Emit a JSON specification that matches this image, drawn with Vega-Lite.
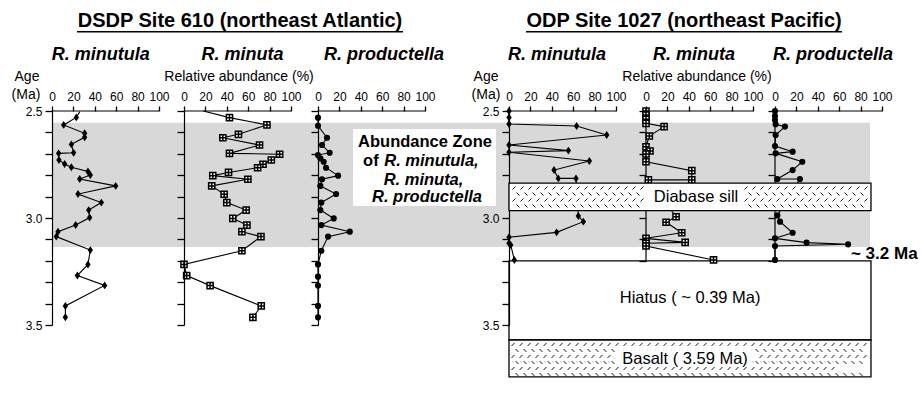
{
"$schema":"https://vega.github.io/schema/vega-lite/v6.json",
"background":"white",
"padding":{"left":11,"top":11,"right":0,"bottom":0},
"autosize":{"type":"pad"},
"spacing":0,
"bounds":"flush",
"config":{"view":{"stroke":null},"font":"Liberation Sans"},
"datasets":{
"dsdp_minutula":[{"pct":26,"age":2.503},{"pct":22.7,"age":2.53},{"pct":10.9,"age":2.565},{"pct":30.5,"age":2.604},{"pct":30.5,"age":2.623},{"pct":18.1,"age":2.656},{"pct":20.2,"age":2.695},{"pct":6.2,"age":2.698},{"pct":6.5,"age":2.729},{"pct":11.8,"age":2.748},{"pct":18.1,"age":2.763},{"pct":33.6,"age":2.783},{"pct":35.8,"age":2.799},{"pct":25.9,"age":2.818},{"pct":59.5,"age":2.85},{"pct":24.3,"age":2.888},{"pct":46.1,"age":2.928},{"pct":34.3,"age":2.963},{"pct":35.2,"age":2.998},{"pct":22.1,"age":3.033},{"pct":5.6,"age":3.064},{"pct":4.0,"age":3.087},{"pct":35.8,"age":3.15},{"pct":33.6,"age":3.217},{"pct":23.7,"age":3.269},{"pct":49.2,"age":3.315},{"pct":12.5,"age":3.411},{"pct":12.5,"age":3.464}],
"dsdp_minuta":[{"pct":18,"age":2.5},{"pct":42.5,"age":2.531},{"pct":77.5,"age":2.565},{"pct":50.9,"age":2.609},{"pct":36.3,"age":2.625},{"pct":70.6,"age":2.659},{"pct":42.5,"age":2.698},{"pct":89.4,"age":2.702},{"pct":81.6,"age":2.729},{"pct":73.8,"age":2.749},{"pct":68.8,"age":2.765},{"pct":41.6,"age":2.787},{"pct":26.9,"age":2.802},{"pct":59.7,"age":2.819},{"pct":25.9,"age":2.85},{"pct":37.5,"age":2.889},{"pct":40.0,"age":2.928},{"pct":58.1,"age":2.963},{"pct":45.6,"age":3.002},{"pct":58.8,"age":3.033},{"pct":54.1,"age":3.064},{"pct":71.9,"age":3.087},{"pct":54.1,"age":3.153},{"pct":0,"age":3.217},{"pct":2.5,"age":3.269},{"pct":24.4,"age":3.316},{"pct":72.2,"age":3.411},{"pct":64.4,"age":3.464}],
"dsdp_productella":[{"pct":0,"age":2.531},{"pct":0,"age":2.569},{"pct":8.4,"age":2.625},{"pct":3.75,"age":2.659},{"pct":10.9,"age":2.695},{"pct":0,"age":2.706},{"pct":2.2,"age":2.721},{"pct":5.3,"age":2.737},{"pct":7.5,"age":2.765},{"pct":18.75,"age":2.802},{"pct":3.75,"age":2.819},{"pct":2.2,"age":2.85},{"pct":16.9,"age":2.888},{"pct":3.1,"age":2.928},{"pct":2.2,"age":2.963},{"pct":14.7,"age":3.002},{"pct":3.1,"age":3.033},{"pct":29.7,"age":3.064},{"pct":9.4,"age":3.087},{"pct":3.1,"age":3.153},{"pct":0,"age":3.217},{"pct":0,"age":3.274},{"pct":0,"age":3.316},{"pct":0,"age":3.411},{"pct":0,"age":3.464}],
"odp_minutula":[{"pct":0,"age":2.5},{"pct":0,"age":2.53},{"pct":0,"age":2.561},{"pct":63.2,"age":2.57},{"pct":91.3,"age":2.612},{"pct":0,"age":2.659},{"pct":55.5,"age":2.685},{"pct":0,"age":2.693},{"pct":75.1,"age":2.734},{"pct":42.1,"age":2.776},{"pct":46.1,"age":2.815},{"pct":62.6,"age":2.815},{"pct":64.8,"age":2.991},{"pct":69.5,"age":3.017},{"pct":44.5,"age":3.067},{"pct":0,"age":3.09},{"pct":0,"age":3.118},{"pct":1.6,"age":3.126},{"pct":5.0,"age":3.196}],
"odp_minuta":[{"pct":0,"age":2.5},{"pct":0,"age":2.519},{"pct":0,"age":2.539},{"pct":0,"age":2.558},{"pct":16.9,"age":2.573},{"pct":3.1,"age":2.617},{"pct":0,"age":2.667},{"pct":3.75,"age":2.687},{"pct":0,"age":2.701},{"pct":0,"age":2.737},{"pct":42.8,"age":2.779},{"pct":42.8,"age":2.822},{"pct":2.2,"age":2.822},{"pct":28.1,"age":2.994},{"pct":18.75,"age":3.02},{"pct":33.4,"age":3.069},{"pct":0,"age":3.095},{"pct":36.6,"age":3.114},{"pct":0,"age":3.118},{"pct":0,"age":3.131},{"pct":63.1,"age":3.196}],
"odp_productella":[{"pct":0,"age":2.5},{"pct":0,"age":2.523},{"pct":0,"age":2.542},{"pct":0.6,"age":2.562},{"pct":9.3,"age":2.573},{"pct":0.6,"age":2.612},{"pct":0,"age":2.664},{"pct":16.5,"age":2.69},{"pct":0.6,"age":2.698},{"pct":25.5,"age":2.737},{"pct":16.5,"age":2.776},{"pct":2.2,"age":2.818},{"pct":23.3,"age":2.818},{"pct":2.2,"age":2.988},{"pct":4.7,"age":3.017},{"pct":16.5,"age":3.069},{"pct":0,"age":3.095},{"pct":29.5,"age":3.115},{"pct":68.3,"age":3.123},{"pct":0,"age":3.131},{"pct":0,"age":3.196}]
},
"hconcat":[
{"width":132,"height":214,"resolve":{"axis":{"x":"independent","y":"independent"}},"layer":[
{"data":{"values":[{}]},"mark":{"type":"rect","color":"#d8d8d8"},"encoding":{"x":{"datum":0,"type":"quantitative","scale":{"domain":[0,123.36],"nice":false,"zero":false},"axis":null},"x2":{"datum":123.36},"y":{"datum":2.555,"type":"quantitative","scale":{"domain":[2.5,3.5],"reverse":true,"nice":false,"zero":false},"axis":null},"y2":{"datum":3.135}}},
{"data":{"values":[{}]},"mark":{"type":"rule","color":"black","strokeWidth":1.2},"encoding":{"x":{"datum":0,"type":"quantitative","scale":{"domain":[0,123.36],"nice":false,"zero":false},"axis":null},"x2":{"datum":100},"y":{"datum":2.5,"type":"quantitative","scale":{"domain":[2.5,3.5],"reverse":true,"nice":false,"zero":false},"axis":null}}},
{"data":{"name":"dsdp_minutula"},"mark":{"type":"line","color":"black","strokeWidth":1.1},"encoding":{"x":{"field":"pct","type":"quantitative","scale":{"domain":[0,123.36],"nice":false,"zero":false},"axis":{"orient":"top","values":[0,20,40,60,80,100],"domain":false,"grid":false,"ticks":true,"tickSize":5,"tickWidth":1.3,"tickColor":"black","labelPadding":3,"labelFontSize":12,"labelFont":"Liberation Sans","labelColor":"black","labelFlush":false,"labelOverlap":false,"title":null,"zindex":1}},"y":{"field":"age","type":"quantitative","scale":{"domain":[2.5,3.5],"reverse":true,"nice":false,"zero":false},"axis":{"orient":"left","values":[2.5,2.6,2.7,2.8,2.9,3.0,3.1,3.2,3.3,3.4,3.5],"labelExpr":"(datum.value == 2.5 || datum.value == 3 || datum.value == 3.5) ? format(datum.value, '.1f') : ''","grid":false,"ticks":true,"tickSize":7,"tickWidth":1.3,"tickColor":"black","domainColor":"black","domainWidth":1.2,"labelPadding":3,"labelFontSize":12,"labelFont":"Liberation Sans","labelColor":"black","labelFlush":false,"labelOverlap":false,"title":null,"zindex":1}},"order":{"value":null}}},
{"data":{"name":"dsdp_minutula"},"transform":[{"filter":"datum.age > 2.505"}],"mark":{"type":"point","shape":"M0,-1.25L0.85,0L0,1.25L-0.85,0Z","filled":true,"color":"black","size":40,"opacity":1},"encoding":{"x":{"field":"pct","type":"quantitative","scale":{"domain":[0,123.36],"nice":false,"zero":false},"axis":null},"y":{"field":"age","type":"quantitative","scale":{"domain":[2.5,3.5],"reverse":true,"nice":false,"zero":false},"axis":null}}},
{"data":{"values":[{}]},"mark":{"type":"text","text":"DSDP Site 610 (northeast Atlantic)","fontSize":20,"fontWeight":"bold","align":"center","baseline":"alphabetic","color":"black"},"encoding":{"x":{"datum":175.7,"type":"quantitative","scale":{"domain":[0,123.36],"nice":false,"zero":false},"axis":null},"y":{"datum":2.1089,"type":"quantitative","scale":{"domain":[2.5,3.5],"reverse":true,"nice":false,"zero":false},"axis":null}}},
{"data":{"values":[{}]},"mark":{"type":"rule","color":"black","strokeWidth":1.5},"encoding":{"x":{"datum":23.4,"type":"quantitative","scale":{"domain":[0,123.36],"nice":false,"zero":false},"axis":null},"x2":{"datum":328},"y":{"datum":2.1294,"type":"quantitative","scale":{"domain":[2.5,3.5],"reverse":true,"nice":false,"zero":false},"axis":null}}},
{"data":{"values":[{}]},"mark":{"type":"text","text":"R. minutula","fontSize":18,"fontWeight":"bold","fontStyle":"italic","align":"center","baseline":"alphabetic","color":"black"},"encoding":{"x":{"datum":45.5,"type":"quantitative","scale":{"domain":[0,123.36],"nice":false,"zero":false},"axis":null},"y":{"datum":2.2626,"type":"quantitative","scale":{"domain":[2.5,3.5],"reverse":true,"nice":false,"zero":false},"axis":null}}},
{"data":{"values":[{}]},"mark":{"type":"text","text":"R. minuta","fontSize":18,"fontWeight":"bold","fontStyle":"italic","align":"center","baseline":"alphabetic","color":"black"},"encoding":{"x":{"datum":178.0,"type":"quantitative","scale":{"domain":[0,123.36],"nice":false,"zero":false},"axis":null},"y":{"datum":2.2626,"type":"quantitative","scale":{"domain":[2.5,3.5],"reverse":true,"nice":false,"zero":false},"axis":null}}},
{"data":{"values":[{}]},"mark":{"type":"text","text":"R. productella","fontSize":18,"fontWeight":"bold","fontStyle":"italic","align":"center","baseline":"alphabetic","color":"black"},"encoding":{"x":{"datum":310.3,"type":"quantitative","scale":{"domain":[0,123.36],"nice":false,"zero":false},"axis":null},"y":{"datum":2.2626,"type":"quantitative","scale":{"domain":[2.5,3.5],"reverse":true,"nice":false,"zero":false},"axis":null}}},
{"data":{"values":[{}]},"mark":{"type":"text","text":"Age","fontSize":14,"align":"center","baseline":"alphabetic","color":"black"},"encoding":{"x":{"datum":-23.4,"type":"quantitative","scale":{"domain":[0,123.36],"nice":false,"zero":false},"axis":null},"y":{"datum":2.3621,"type":"quantitative","scale":{"domain":[2.5,3.5],"reverse":true,"nice":false,"zero":false},"axis":null}}},
{"data":{"values":[{}]},"mark":{"type":"text","text":"(Ma)","fontSize":14,"align":"center","baseline":"alphabetic","color":"black"},"encoding":{"x":{"datum":-24.3,"type":"quantitative","scale":{"domain":[0,123.36],"nice":false,"zero":false},"axis":null},"y":{"datum":2.4439,"type":"quantitative","scale":{"domain":[2.5,3.5],"reverse":true,"nice":false,"zero":false},"axis":null}}},
{"data":{"values":[{}]},"mark":{"type":"text","text":"Relative abundance (%)","fontSize":14,"align":"center","baseline":"alphabetic","color":"black"},"encoding":{"x":{"datum":174.8,"type":"quantitative","scale":{"domain":[0,123.36],"nice":false,"zero":false},"axis":null},"y":{"datum":2.3621,"type":"quantitative","scale":{"domain":[2.5,3.5],"reverse":true,"nice":false,"zero":false},"axis":null}}}
]},
{"width":134,"height":214,"resolve":{"axis":{"x":"independent","y":"independent"}},"layer":[
{"data":{"values":[{}]},"mark":{"type":"rect","color":"#d8d8d8"},"encoding":{"x":{"datum":0,"type":"quantitative","scale":{"domain":[0,125.23],"nice":false,"zero":false},"axis":null},"x2":{"datum":125.23},"y":{"datum":2.555,"type":"quantitative","scale":{"domain":[2.5,3.5],"reverse":true,"nice":false,"zero":false},"axis":null},"y2":{"datum":3.135}}},
{"data":{"values":[{}]},"mark":{"type":"rule","color":"black","strokeWidth":1.2},"encoding":{"x":{"datum":0,"type":"quantitative","scale":{"domain":[0,125.23],"nice":false,"zero":false},"axis":null},"x2":{"datum":100},"y":{"datum":2.5,"type":"quantitative","scale":{"domain":[2.5,3.5],"reverse":true,"nice":false,"zero":false},"axis":null}}},
{"data":{"name":"dsdp_minuta"},"mark":{"type":"line","color":"black","strokeWidth":1.1},"encoding":{"x":{"field":"pct","type":"quantitative","scale":{"domain":[0,125.23],"nice":false,"zero":false},"axis":{"orient":"top","values":[0,20,40,60,80,100],"domain":false,"grid":false,"ticks":true,"tickSize":5,"tickWidth":1.3,"tickColor":"black","labelPadding":3,"labelFontSize":12,"labelFont":"Liberation Sans","labelColor":"black","labelFlush":false,"labelOverlap":false,"title":null,"zindex":1}},"y":{"field":"age","type":"quantitative","scale":{"domain":[2.5,3.5],"reverse":true,"nice":false,"zero":false},"axis":{"orient":"left","values":[2.5,2.6,2.7,2.8,2.9,3.0,3.1,3.2,3.3,3.4,3.5],"labels":false,"grid":false,"ticks":true,"tickSize":7,"tickWidth":1.3,"tickColor":"black","domainColor":"black","domainWidth":1.2,"title":null,"zindex":1}},"order":{"value":null}}},
{"data":{"name":"dsdp_minuta"},"transform":[{"filter":"datum.age > 2.505"}],"mark":{"type":"point","shape":"M-1,-1H1V1H-1ZM0,-1V1M-1,0H1","filled":true,"fill":"white","stroke":"black","strokeWidth":1.5,"size":38,"opacity":1},"encoding":{"x":{"field":"pct","type":"quantitative","scale":{"domain":[0,125.23],"nice":false,"zero":false},"axis":null},"y":{"field":"age","type":"quantitative","scale":{"domain":[2.5,3.5],"reverse":true,"nice":false,"zero":false},"axis":null}}}
]},
{"width":191,"height":214,"resolve":{"axis":{"x":"independent","y":"independent"}},"layer":[
{"data":{"values":[{}]},"mark":{"type":"rect","color":"#d8d8d8"},"encoding":{"x":{"datum":0,"type":"quantitative","scale":{"domain":[0,178.5],"nice":false,"zero":false},"axis":null},"x2":{"datum":178.5},"y":{"datum":2.555,"type":"quantitative","scale":{"domain":[2.5,3.5],"reverse":true,"nice":false,"zero":false},"axis":null},"y2":{"datum":3.135}}},
{"data":{"values":[{}]},"mark":{"type":"rect","color":"white"},"encoding":{"x":{"datum":32.7,"type":"quantitative","scale":{"domain":[0,178.5],"nice":false,"zero":false},"axis":null},"x2":{"datum":166.4},"y":{"datum":2.5841,"type":"quantitative","scale":{"domain":[2.5,3.5],"reverse":true,"nice":false,"zero":false},"axis":null},"y2":{"datum":2.9439}}},
{"data":{"values":[{}]},"mark":{"type":"rule","color":"black","strokeWidth":1.2},"encoding":{"x":{"datum":0,"type":"quantitative","scale":{"domain":[0,178.5],"nice":false,"zero":false},"axis":null},"x2":{"datum":100},"y":{"datum":2.5,"type":"quantitative","scale":{"domain":[2.5,3.5],"reverse":true,"nice":false,"zero":false},"axis":null}}},
{"data":{"name":"dsdp_productella"},"mark":{"type":"line","color":"black","strokeWidth":1.1},"encoding":{"x":{"field":"pct","type":"quantitative","scale":{"domain":[0,178.5],"nice":false,"zero":false},"axis":{"orient":"top","values":[0,20,40,60,80,100],"domain":false,"grid":false,"ticks":true,"tickSize":5,"tickWidth":1.3,"tickColor":"black","labelPadding":3,"labelFontSize":12,"labelFont":"Liberation Sans","labelColor":"black","labelFlush":false,"labelOverlap":false,"title":null,"zindex":1}},"y":{"field":"age","type":"quantitative","scale":{"domain":[2.5,3.5],"reverse":true,"nice":false,"zero":false},"axis":{"orient":"left","values":[2.5,2.6,2.7,2.8,2.9,3.0,3.1,3.2,3.3,3.4,3.5],"labels":false,"grid":false,"ticks":true,"tickSize":7,"tickWidth":1.3,"tickColor":"black","domainColor":"black","domainWidth":1.2,"title":null,"zindex":1}},"order":{"value":null}}},
{"data":{"name":"dsdp_productella"},"mark":{"type":"point","shape":"circle","filled":true,"color":"black","size":38,"opacity":1},"encoding":{"x":{"field":"pct","type":"quantitative","scale":{"domain":[0,178.5],"nice":false,"zero":false},"axis":null},"y":{"field":"age","type":"quantitative","scale":{"domain":[2.5,3.5],"reverse":true,"nice":false,"zero":false},"axis":null}}},
{"data":{"values":[{}]},"mark":{"type":"text","text":"Abundance Zone","fontSize":16.5,"fontWeight":"bold","align":"center","baseline":"alphabetic","color":"black"},"encoding":{"x":{"datum":100.0,"type":"quantitative","scale":{"domain":[0,178.5],"nice":false,"zero":false},"axis":null},"y":{"datum":2.6696,"type":"quantitative","scale":{"domain":[2.5,3.5],"reverse":true,"nice":false,"zero":false},"axis":null}}},
{"data":{"values":[{}]},"mark":{"type":"text","text":"of","fontSize":16.5,"fontWeight":"bold","align":"left","baseline":"alphabetic","color":"black"},"encoding":{"x":{"datum":42.1,"type":"quantitative","scale":{"domain":[0,178.5],"nice":false,"zero":false},"axis":null},"y":{"datum":2.7565,"type":"quantitative","scale":{"domain":[2.5,3.5],"reverse":true,"nice":false,"zero":false},"axis":null}}},
{"data":{"values":[{}]},"mark":{"type":"text","text":"R. minutula,","fontSize":16.5,"fontWeight":"bold","fontStyle":"italic","align":"left","baseline":"alphabetic","color":"black"},"encoding":{"x":{"datum":61.9,"type":"quantitative","scale":{"domain":[0,178.5],"nice":false,"zero":false},"axis":null},"y":{"datum":2.7565,"type":"quantitative","scale":{"domain":[2.5,3.5],"reverse":true,"nice":false,"zero":false},"axis":null}}},
{"data":{"values":[{}]},"mark":{"type":"text","text":"R. minuta,","fontSize":16.5,"fontWeight":"bold","fontStyle":"italic","align":"center","baseline":"alphabetic","color":"black"},"encoding":{"x":{"datum":98.6,"type":"quantitative","scale":{"domain":[0,178.5],"nice":false,"zero":false},"axis":null},"y":{"datum":2.8435,"type":"quantitative","scale":{"domain":[2.5,3.5],"reverse":true,"nice":false,"zero":false},"axis":null}}},
{"data":{"values":[{}]},"mark":{"type":"text","text":"R. productella","fontSize":16.5,"fontWeight":"bold","fontStyle":"italic","align":"center","baseline":"alphabetic","color":"black"},"encoding":{"x":{"datum":101.9,"type":"quantitative","scale":{"domain":[0,178.5],"nice":false,"zero":false},"axis":null},"y":{"datum":2.927,"type":"quantitative","scale":{"domain":[2.5,3.5],"reverse":true,"nice":false,"zero":false},"axis":null}}}
]},
{"width":137,"height":214,"resolve":{"axis":{"x":"independent","y":"independent"}},"layer":[
{"data":{"values":[{}]},"mark":{"type":"rect","color":"#d8d8d8"},"encoding":{"x":{"datum":0,"type":"quantitative","scale":{"domain":[0,128.04],"nice":false,"zero":false},"axis":null},"x2":{"datum":128.04},"y":{"datum":2.555,"type":"quantitative","scale":{"domain":[2.5,3.5],"reverse":true,"nice":false,"zero":false},"axis":null},"y2":{"datum":3.135}}},
{"data":{"values":[{}]},"mark":{"type":"rect","fill":"white","stroke":"black","strokeWidth":1.3},"encoding":{"x":{"datum":0,"type":"quantitative","scale":{"domain":[0,128.04],"nice":false,"zero":false},"axis":null},"x2":{"datum":338.3},"y":{"datum":3.2,"type":"quantitative","scale":{"domain":[2.5,3.5],"reverse":true,"nice":false,"zero":false},"axis":null},"y2":{"datum":3.57}}},
{"data":{"values":[{}]},"mark":{"type":"rect","fill":"white","stroke":"black","strokeWidth":1.3},"encoding":{"x":{"datum":0,"type":"quantitative","scale":{"domain":[0,128.04],"nice":false,"zero":false},"axis":null},"x2":{"datum":338.3},"y":{"datum":3.57,"type":"quantitative","scale":{"domain":[2.5,3.5],"reverse":true,"nice":false,"zero":false},"axis":null},"y2":{"datum":3.742}}},
{"data":{"values":[{}]},"mark":{"type":"point","shape":"M-178,-12.5l3,-3m5,3l3,-3m5,3l3,-3m5,3l3,-3m5,3l3,-3m5,3l3,-3m5,3l3,-3m5,3l3,-3m5,3l3,-3m5,3l3,-3m5,3l3,-3m5,3l3,-3m5,3l3,-3m5,3l3,-3m5,3l3,-3m5,3l3,-3m5,3l3,-3m5,3l3,-3m5,3l3,-3m5,3l3,-3m5,3l3,-3m5,3l3,-3m5,3l3,-3m5,3l3,-3m5,3l3,-3m5,3l3,-3m5,3l3,-3m5,3l3,-3m5,3l3,-3m5,3l3,-3m5,3l3,-3m5,3l3,-3m5,3l3,-3m5,3l3,-3m5,3l3,-3m5,3l3,-3m5,3l3,-3m5,3l3,-3m5,3l3,-3m5,3l3,-3m5,3l3,-3m5,3l3,-3m5,3l3,-3m5,3l3,-3m5,3l3,-3m5,3M-174,-9.5l3,3m5,-3l3,3m5,-3l3,3m5,-3l3,3m5,-3l3,3m5,-3l3,3m5,-3l3,3m5,-3l3,3m5,-3l3,3m5,-3l3,3m5,-3l3,3m5,-3l3,3m5,-3l3,3m5,-3M66,-9.5l3,3m5,-3l3,3m5,-3l3,3m5,-3l3,3m5,-3l3,3m5,-3l3,3m5,-3l3,3m5,-3l3,3m5,-3l3,3m5,-3l3,3m5,-3l3,3m5,-3l3,3m5,-3l3,3m5,-3l3,3m5,-3M-178,-0.5l3,-3m5,3l3,-3m5,3l3,-3m5,3l3,-3m5,3l3,-3m5,3l3,-3m5,3l3,-3m5,3l3,-3m5,3l3,-3m5,3l3,-3m5,3l3,-3m5,3l3,-3m5,3l3,-3m5,3M70,-0.5l3,-3m5,3l3,-3m5,3l3,-3m5,3l3,-3m5,3l3,-3m5,3l3,-3m5,3l3,-3m5,3l3,-3m5,3l3,-3m5,3l3,-3m5,3l3,-3m5,3l3,-3m5,3l3,-3m5,3l3,-3m5,3M-174,2.5l3,3m5,-3l3,3m5,-3l3,3m5,-3l3,3m5,-3l3,3m5,-3l3,3m5,-3l3,3m5,-3l3,3m5,-3l3,3m5,-3l3,3m5,-3l3,3m5,-3l3,3m5,-3l3,3m5,-3M66,2.5l3,3m5,-3l3,3m5,-3l3,3m5,-3l3,3m5,-3l3,3m5,-3l3,3m5,-3l3,3m5,-3l3,3m5,-3l3,3m5,-3l3,3m5,-3l3,3m5,-3l3,3m5,-3l3,3m5,-3l3,3m5,-3M-178,11.5l3,-3m5,3l3,-3m5,3l3,-3m5,3l3,-3m5,3l3,-3m5,3l3,-3m5,3l3,-3m5,3l3,-3m5,3l3,-3m5,3l3,-3m5,3l3,-3m5,3l3,-3m5,3l3,-3m5,3l3,-3m5,3l3,-3m5,3l3,-3m5,3l3,-3m5,3l3,-3m5,3l3,-3m5,3l3,-3m5,3l3,-3m5,3l3,-3m5,3l3,-3m5,3l3,-3m5,3l3,-3m5,3l3,-3m5,3l3,-3m5,3l3,-3m5,3l3,-3m5,3l3,-3m5,3l3,-3m5,3l3,-3m5,3l3,-3m5,3l3,-3m5,3l3,-3m5,3l3,-3m5,3l3,-3m5,3l3,-3m5,3l3,-3m5,3l3,-3m5,3l3,-3m5,3M-174,14.5l3,3m5,-3l3,3m5,-3l3,3m5,-3l3,3m5,-3l3,3m5,-3l3,3m5,-3l3,3m5,-3l3,3m5,-3l3,3m5,-3l3,3m5,-3l3,3m5,-3l3,3m5,-3l3,3m5,-3l3,3m5,-3l3,3m5,-3l3,3m5,-3l3,3m5,-3l3,3m5,-3l3,3m5,-3l3,3m5,-3l3,3m5,-3l3,3m5,-3l3,3m5,-3l3,3m5,-3l3,3m5,-3l3,3m5,-3l3,3m5,-3l3,3m5,-3l3,3m5,-3l3,3m5,-3l3,3m5,-3l3,3m5,-3l3,3m5,-3l3,3m5,-3l3,3m5,-3l3,3m5,-3l3,3m5,-3l3,3m5,-3l3,3m5,-3l3,3m5,-3l3,3m5,-3l3,3m5,-3l3,3m5,-3l3,3m5,-3","filled":false,"color":"#111111","strokeWidth":1,"size":4,"opacity":1},"encoding":{"x":{"datum":168.7,"type":"quantitative","scale":{"domain":[0,128.04],"nice":false,"zero":false},"axis":null},"y":{"datum":3.6565,"type":"quantitative","scale":{"domain":[2.5,3.5],"reverse":true,"nice":false,"zero":false},"axis":null}}},
{"data":{"values":[{}]},"mark":{"type":"rule","color":"black","strokeWidth":1.2},"encoding":{"x":{"datum":0,"type":"quantitative","scale":{"domain":[0,128.04],"nice":false,"zero":false},"axis":null},"x2":{"datum":100},"y":{"datum":2.5,"type":"quantitative","scale":{"domain":[2.5,3.5],"reverse":true,"nice":false,"zero":false},"axis":null}}},
{"data":{"name":"odp_minutula"},"mark":{"type":"line","color":"black","strokeWidth":1.1},"encoding":{"x":{"field":"pct","type":"quantitative","scale":{"domain":[0,128.04],"nice":false,"zero":false},"axis":{"orient":"top","values":[0,20,40,60,80,100],"domain":false,"grid":false,"ticks":true,"tickSize":5,"tickWidth":1.3,"tickColor":"black","labelPadding":3,"labelFontSize":12,"labelFont":"Liberation Sans","labelColor":"black","labelFlush":false,"labelOverlap":false,"title":null,"zindex":1}},"y":{"field":"age","type":"quantitative","scale":{"domain":[2.5,3.5],"reverse":true,"nice":false,"zero":false},"axis":{"orient":"left","values":[2.5,2.6,2.7,2.8,3.0,3.1,3.2,3.3,3.4,3.5],"labelExpr":"(datum.value == 2.5 || datum.value == 3 || datum.value == 3.5) ? format(datum.value, '.1f') : ''","grid":false,"ticks":true,"tickSize":7,"tickWidth":1.3,"tickColor":"black","domainColor":"black","domainWidth":1.2,"labelPadding":3,"labelFontSize":12,"labelFont":"Liberation Sans","labelColor":"black","labelFlush":false,"labelOverlap":false,"title":null,"zindex":1}},"order":{"value":null}}},
{"data":{"name":"odp_minutula"},"mark":{"type":"point","shape":"M0,-1.25L0.85,0L0,1.25L-0.85,0Z","filled":true,"color":"black","size":40,"opacity":1},"encoding":{"x":{"field":"pct","type":"quantitative","scale":{"domain":[0,128.04],"nice":false,"zero":false},"axis":null},"y":{"field":"age","type":"quantitative","scale":{"domain":[2.5,3.5],"reverse":true,"nice":false,"zero":false},"axis":null}}},
{"data":{"values":[{}]},"mark":{"type":"text","text":"ODP Site 1027 (northeast Pacific)","fontSize":20,"fontWeight":"bold","align":"center","baseline":"alphabetic","color":"black"},"encoding":{"x":{"datum":163.6,"type":"quantitative","scale":{"domain":[0,128.04],"nice":false,"zero":false},"axis":null},"y":{"datum":2.1089,"type":"quantitative","scale":{"domain":[2.5,3.5],"reverse":true,"nice":false,"zero":false},"axis":null}}},
{"data":{"values":[{}]},"mark":{"type":"rule","color":"black","strokeWidth":1.5},"encoding":{"x":{"datum":15.9,"type":"quantitative","scale":{"domain":[0,128.04],"nice":false,"zero":false},"axis":null},"x2":{"datum":311.2},"y":{"datum":2.1294,"type":"quantitative","scale":{"domain":[2.5,3.5],"reverse":true,"nice":false,"zero":false},"axis":null}}},
{"data":{"values":[{}]},"mark":{"type":"text","text":"R. minutula","fontSize":18,"fontWeight":"bold","fontStyle":"italic","align":"center","baseline":"alphabetic","color":"black"},"encoding":{"x":{"datum":44.9,"type":"quantitative","scale":{"domain":[0,128.04],"nice":false,"zero":false},"axis":null},"y":{"datum":2.2626,"type":"quantitative","scale":{"domain":[2.5,3.5],"reverse":true,"nice":false,"zero":false},"axis":null}}},
{"data":{"values":[{}]},"mark":{"type":"text","text":"R. minuta","fontSize":18,"fontWeight":"bold","fontStyle":"italic","align":"center","baseline":"alphabetic","color":"black"},"encoding":{"x":{"datum":172.9,"type":"quantitative","scale":{"domain":[0,128.04],"nice":false,"zero":false},"axis":null},"y":{"datum":2.2626,"type":"quantitative","scale":{"domain":[2.5,3.5],"reverse":true,"nice":false,"zero":false},"axis":null}}},
{"data":{"values":[{}]},"mark":{"type":"text","text":"R. productella","fontSize":18,"fontWeight":"bold","fontStyle":"italic","align":"center","baseline":"alphabetic","color":"black"},"encoding":{"x":{"datum":302.8,"type":"quantitative","scale":{"domain":[0,128.04],"nice":false,"zero":false},"axis":null},"y":{"datum":2.2626,"type":"quantitative","scale":{"domain":[2.5,3.5],"reverse":true,"nice":false,"zero":false},"axis":null}}},
{"data":{"values":[{}]},"mark":{"type":"text","text":"Age","fontSize":14,"align":"center","baseline":"alphabetic","color":"black"},"encoding":{"x":{"datum":-21.5,"type":"quantitative","scale":{"domain":[0,128.04],"nice":false,"zero":false},"axis":null},"y":{"datum":2.3621,"type":"quantitative","scale":{"domain":[2.5,3.5],"reverse":true,"nice":false,"zero":false},"axis":null}}},
{"data":{"values":[{}]},"mark":{"type":"text","text":"(Ma)","fontSize":14,"align":"center","baseline":"alphabetic","color":"black"},"encoding":{"x":{"datum":-21.5,"type":"quantitative","scale":{"domain":[0,128.04],"nice":false,"zero":false},"axis":null},"y":{"datum":2.4439,"type":"quantitative","scale":{"domain":[2.5,3.5],"reverse":true,"nice":false,"zero":false},"axis":null}}},
{"data":{"values":[{}]},"mark":{"type":"text","text":"Relative abundance (%)","fontSize":14,"align":"center","baseline":"alphabetic","color":"black"},"encoding":{"x":{"datum":175.7,"type":"quantitative","scale":{"domain":[0,128.04],"nice":false,"zero":false},"axis":null},"y":{"datum":2.3621,"type":"quantitative","scale":{"domain":[2.5,3.5],"reverse":true,"nice":false,"zero":false},"axis":null}}},
{"data":{"values":[{}]},"mark":{"type":"text","text":"Hiatus ( ~ 0.39 Ma)","fontSize":16.5,"align":"center","baseline":"alphabetic","color":"black"},"encoding":{"x":{"datum":169.3,"type":"quantitative","scale":{"domain":[0,128.04],"nice":false,"zero":false},"axis":null},"y":{"datum":3.3986,"type":"quantitative","scale":{"domain":[2.5,3.5],"reverse":true,"nice":false,"zero":false},"axis":null}}},
{"data":{"values":[{}]},"mark":{"type":"text","text":"Basalt ( 3.59 Ma)","fontSize":16.5,"align":"center","baseline":"alphabetic","color":"black"},"encoding":{"x":{"datum":164.5,"type":"quantitative","scale":{"domain":[0,128.04],"nice":false,"zero":false},"axis":null},"y":{"datum":3.6822,"type":"quantitative","scale":{"domain":[2.5,3.5],"reverse":true,"nice":false,"zero":false},"axis":null}}}
]},
{"width":129,"height":214,"resolve":{"axis":{"x":"independent","y":"independent"}},"layer":[
{"data":{"values":[{}]},"mark":{"type":"rect","color":"#d8d8d8"},"encoding":{"x":{"datum":0,"type":"quantitative","scale":{"domain":[0,120.56],"nice":false,"zero":false},"axis":null},"x2":{"datum":120.56},"y":{"datum":2.555,"type":"quantitative","scale":{"domain":[2.5,3.5],"reverse":true,"nice":false,"zero":false},"axis":null},"y2":{"datum":3.135}}},
{"data":{"values":[{}]},"mark":{"type":"rule","color":"black","strokeWidth":1.2},"encoding":{"x":{"datum":0,"type":"quantitative","scale":{"domain":[0,120.56],"nice":false,"zero":false},"axis":null},"x2":{"datum":100},"y":{"datum":2.5,"type":"quantitative","scale":{"domain":[2.5,3.5],"reverse":true,"nice":false,"zero":false},"axis":null}}},
{"data":{"values":[{}]},"mark":{"type":"rule","color":"black","strokeWidth":1.2},"encoding":{"x":{"datum":0,"type":"quantitative","scale":{"domain":[0,120.56],"nice":false,"zero":false},"axis":null},"y":{"datum":2.5,"type":"quantitative","scale":{"domain":[2.5,3.5],"reverse":true,"nice":false,"zero":false},"axis":null},"y2":{"datum":3.2}}},
{"data":{"name":"odp_minuta"},"mark":{"type":"line","color":"black","strokeWidth":1.1},"encoding":{"x":{"field":"pct","type":"quantitative","scale":{"domain":[0,120.56],"nice":false,"zero":false},"axis":{"orient":"top","values":[0,20,40,60,80,100],"domain":false,"grid":false,"ticks":true,"tickSize":5,"tickWidth":1.3,"tickColor":"black","labelPadding":3,"labelFontSize":12,"labelFont":"Liberation Sans","labelColor":"black","labelFlush":false,"labelOverlap":false,"title":null,"zindex":1}},"y":{"field":"age","type":"quantitative","scale":{"domain":[2.5,3.5],"reverse":true,"nice":false,"zero":false},"axis":{"orient":"left","values":[2.5,2.6,2.7,2.8,3.0,3.1,3.2],"labels":false,"domain":false,"grid":false,"ticks":true,"tickSize":7,"tickWidth":1.3,"tickColor":"black","title":null,"zindex":1}},"order":{"value":null}}},
{"data":{"name":"odp_minuta"},"mark":{"type":"point","shape":"M-1,-1H1V1H-1ZM0,-1V1M-1,0H1","filled":true,"fill":"white","stroke":"black","strokeWidth":1.5,"size":38,"opacity":1},"encoding":{"x":{"field":"pct","type":"quantitative","scale":{"domain":[0,120.56],"nice":false,"zero":false},"axis":null},"y":{"field":"age","type":"quantitative","scale":{"domain":[2.5,3.5],"reverse":true,"nice":false,"zero":false},"axis":null}}}
]},
{"width":140,"height":214,"resolve":{"axis":{"x":"independent","y":"independent"}},"layer":[
{"data":{"values":[{}]},"mark":{"type":"rect","color":"#d8d8d8"},"encoding":{"x":{"datum":0,"type":"quantitative","scale":{"domain":[0,130.84],"nice":false,"zero":false},"axis":null},"x2":{"datum":88.8},"y":{"datum":2.555,"type":"quantitative","scale":{"domain":[2.5,3.5],"reverse":true,"nice":false,"zero":false},"axis":null},"y2":{"datum":3.135}}},
{"data":{"values":[{}]},"mark":{"type":"rule","color":"black","strokeWidth":1.2},"encoding":{"x":{"datum":0,"type":"quantitative","scale":{"domain":[0,130.84],"nice":false,"zero":false},"axis":null},"x2":{"datum":100},"y":{"datum":2.5,"type":"quantitative","scale":{"domain":[2.5,3.5],"reverse":true,"nice":false,"zero":false},"axis":null}}},
{"data":{"values":[{}]},"mark":{"type":"rule","color":"black","strokeWidth":1.2},"encoding":{"x":{"datum":0,"type":"quantitative","scale":{"domain":[0,130.84],"nice":false,"zero":false},"axis":null},"y":{"datum":2.5,"type":"quantitative","scale":{"domain":[2.5,3.5],"reverse":true,"nice":false,"zero":false},"axis":null},"y2":{"datum":3.2}}},
{"data":{"name":"odp_productella"},"mark":{"type":"line","color":"black","strokeWidth":1.1},"encoding":{"x":{"field":"pct","type":"quantitative","scale":{"domain":[0,130.84],"nice":false,"zero":false},"axis":{"orient":"top","values":[0,20,40,60,80,100],"domain":false,"grid":false,"ticks":true,"tickSize":5,"tickWidth":1.3,"tickColor":"black","labelPadding":3,"labelFontSize":12,"labelFont":"Liberation Sans","labelColor":"black","labelFlush":false,"labelOverlap":false,"title":null,"zindex":1}},"y":{"field":"age","type":"quantitative","scale":{"domain":[2.5,3.5],"reverse":true,"nice":false,"zero":false},"axis":{"orient":"left","values":[2.5,2.6,2.7,2.8,3.0,3.1,3.2],"labels":false,"domain":false,"grid":false,"ticks":true,"tickSize":7,"tickWidth":1.3,"tickColor":"black","title":null,"zindex":1}},"order":{"value":null}}},
{"data":{"name":"odp_productella"},"mark":{"type":"point","shape":"circle","filled":true,"color":"black","size":38,"opacity":1},"encoding":{"x":{"field":"pct","type":"quantitative","scale":{"domain":[0,130.84],"nice":false,"zero":false},"axis":null},"y":{"field":"age","type":"quantitative","scale":{"domain":[2.5,3.5],"reverse":true,"nice":false,"zero":false},"axis":null}}},
{"data":{"values":[{}]},"mark":{"type":"rect","fill":"white","stroke":"black","strokeWidth":1.3},"encoding":{"x":{"datum":-248.6,"type":"quantitative","scale":{"domain":[0,130.84],"nice":false,"zero":false},"axis":null},"x2":{"datum":89.7},"y":{"datum":2.837,"type":"quantitative","scale":{"domain":[2.5,3.5],"reverse":true,"nice":false,"zero":false},"axis":null},"y2":{"datum":2.966}}},
{"data":{"values":[{}]},"mark":{"type":"point","shape":"M-178,-7.5l3,-3m5,3l3,-3m5,3l3,-3m5,3l3,-3m5,3l3,-3m5,3l3,-3m5,3l3,-3m5,3l3,-3m5,3l3,-3m5,3l3,-3m5,3l3,-3m5,3l3,-3m5,3l3,-3m5,3l3,-3m5,3l3,-3m5,3l3,-3m5,3l3,-3m5,3M54,-7.5l3,-3m5,3l3,-3m5,3l3,-3m5,3l3,-3m5,3l3,-3m5,3l3,-3m5,3l3,-3m5,3l3,-3m5,3l3,-3m5,3l3,-3m5,3l3,-3m5,3l3,-3m5,3l3,-3m5,3l3,-3m5,3l3,-3m5,3l3,-3m5,3M-174,-4.5l3,3m5,-3l3,3m5,-3l3,3m5,-3l3,3m5,-3l3,3m5,-3l3,3m5,-3l3,3m5,-3l3,3m5,-3l3,3m5,-3l3,3m5,-3l3,3m5,-3l3,3m5,-3l3,3m5,-3l3,3m5,-3l3,3m5,-3l3,3m5,-3M58,-4.5l3,3m5,-3l3,3m5,-3l3,3m5,-3l3,3m5,-3l3,3m5,-3l3,3m5,-3l3,3m5,-3l3,3m5,-3l3,3m5,-3l3,3m5,-3l3,3m5,-3l3,3m5,-3l3,3m5,-3l3,3m5,-3l3,3m5,-3M-178,4.5l3,-3m5,3l3,-3m5,3l3,-3m5,3l3,-3m5,3l3,-3m5,3l3,-3m5,3l3,-3m5,3l3,-3m5,3l3,-3m5,3l3,-3m5,3l3,-3m5,3l3,-3m5,3l3,-3m5,3l3,-3m5,3l3,-3m5,3l3,-3m5,3l3,-3m5,3M54,4.5l3,-3m5,3l3,-3m5,3l3,-3m5,3l3,-3m5,3l3,-3m5,3l3,-3m5,3l3,-3m5,3l3,-3m5,3l3,-3m5,3l3,-3m5,3l3,-3m5,3l3,-3m5,3l3,-3m5,3l3,-3m5,3l3,-3m5,3l3,-3m5,3M-174,7.5l3,3m5,-3l3,3m5,-3l3,3m5,-3l3,3m5,-3l3,3m5,-3l3,3m5,-3l3,3m5,-3l3,3m5,-3l3,3m5,-3l3,3m5,-3l3,3m5,-3l3,3m5,-3l3,3m5,-3l3,3m5,-3l3,3m5,-3l3,3m5,-3M58,7.5l3,3m5,-3l3,3m5,-3l3,3m5,-3l3,3m5,-3l3,3m5,-3l3,3m5,-3l3,3m5,-3l3,3m5,-3l3,3m5,-3l3,3m5,-3l3,3m5,-3l3,3m5,-3l3,3m5,-3l3,3m5,-3l3,3m5,-3","filled":false,"color":"#111111","strokeWidth":1,"size":4,"opacity":1},"encoding":{"x":{"datum":-79.0,"type":"quantitative","scale":{"domain":[0,130.84],"nice":false,"zero":false},"axis":null},"y":{"datum":2.9019,"type":"quantitative","scale":{"domain":[2.5,3.5],"reverse":true,"nice":false,"zero":false},"axis":null}}},
{"data":{"values":[{}]},"mark":{"type":"text","text":"Diabase sill","fontSize":16.5,"align":"center","baseline":"alphabetic","color":"black"},"encoding":{"x":{"datum":-73.8,"type":"quantitative","scale":{"domain":[0,130.84],"nice":false,"zero":false},"axis":null},"y":{"datum":2.9238,"type":"quantitative","scale":{"domain":[2.5,3.5],"reverse":true,"nice":false,"zero":false},"axis":null}}},
{"data":{"values":[{}]},"mark":{"type":"text","text":"~ 3.2 Ma","fontSize":17,"fontWeight":"bold","align":"left","baseline":"alphabetic","color":"black"},"encoding":{"x":{"datum":71.0,"type":"quantitative","scale":{"domain":[0,130.84],"nice":false,"zero":false},"axis":null},"y":{"datum":3.1916,"type":"quantitative","scale":{"domain":[2.5,3.5],"reverse":true,"nice":false,"zero":false},"axis":null}}}
]}
]
}
